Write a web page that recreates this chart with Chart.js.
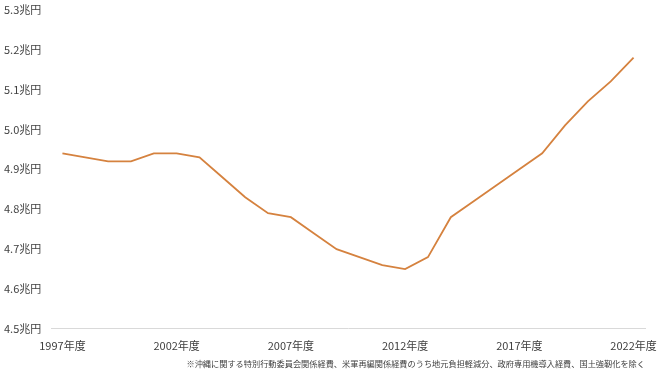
<!DOCTYPE html>
<html>
<head>
<meta charset="utf-8">
<script src="https://cdn.jsdelivr.net/npm/chart.js@4/dist/chart.umd.min.js"></script>
<style>
  html, body { margin: 0; padding: 0; background: #fff; }
  #wrap { width: 660px; height: 371px; }
</style>
</head>
<body>
<div id="wrap"><canvas id="chart" width="660" height="371"></canvas></div>
<script>
// fiscal years 1997-2022
var years = [];
for (var y = 1997; y <= 2022; y++) {
    years.push(y + '年度');
}

// 兆円
var budget = [
    4.94, 4.93, 4.92, 4.92, 4.94, 4.94, 4.93, 4.88, 4.83, 4.79,
    4.78, 4.74, 4.70, 4.68, 4.66, 4.65, 4.68, 4.78, 4.82, 4.86,
    4.90, 4.94, 5.01, 5.07, 5.12, 5.18
];

var yTicks = [4.5, 4.6, 4.7, 4.8, 4.9, 5.0, 5.1, 5.2, 5.3];

var note = '※沖縄に関する特別行動委員会関係経費、米軍再編関係経費のうち地元負担軽減分、政府専用機導入経費、国土強靭化を除く';

var FONT = "'Noto Sans CJK JP', 'Noto Sans', sans-serif";
var TEXT = '#404040';

const ctx = document.getElementById('chart');
new Chart(ctx, {
    type: 'line',
    data: {
        labels: years,
        datasets: [{
            data: budget,
            borderColor: '#d5823f',
            borderWidth: 1.8,
            pointRadius: 0,
            tension: 0,
            fill: false
        }]
    },
    options: {
        responsive: false,
        animation: false,
        layout: {
            padding: { top: 7, right: 15, left: 4, bottom: 2 }
        },
        scales: {
            x: {
                offset: true,
                grid: { display: false },
                border: { display: true, color: '#d9d9d9', width: 1 },
                ticks: {
                    autoSkip: false,
                    maxRotation: 0,
                    padding: 2,
                    color: TEXT,
                    font: { family: FONT, size: 11 },
                    callback: function (val, index) {
                        return index % 5 === 0 ? years[index] : '';
                    }
                }
            },
            y: {
                min: 4.5,
                max: 5.3,
                afterBuildTicks: function (scale) {
                    scale.ticks = yTicks.map(function (v) { return { value: v }; });
                },
                afterFit: function (scale) {
                    scale.width = 47;
                },
                grid: { display: false },
                border: { display: false },
                ticks: {
                    crossAlign: 'far',
                    color: TEXT,
                    font: { family: FONT, size: 11 },
                    callback: function (val) {
                        return val.toFixed(1) + '兆円';
                    }
                }
            }
        },
        plugins: {
            legend: { display: false },
            tooltip: { enabled: false },
            title: {
                display: true,
                position: 'bottom',
                align: 'end',
                text: note,
                color: TEXT,
                font: { family: FONT, size: 8.2, weight: 'normal' },
                padding: { top: 5, bottom: 0 }
            }
        }
    }
});
</script>
</body>
</html>
